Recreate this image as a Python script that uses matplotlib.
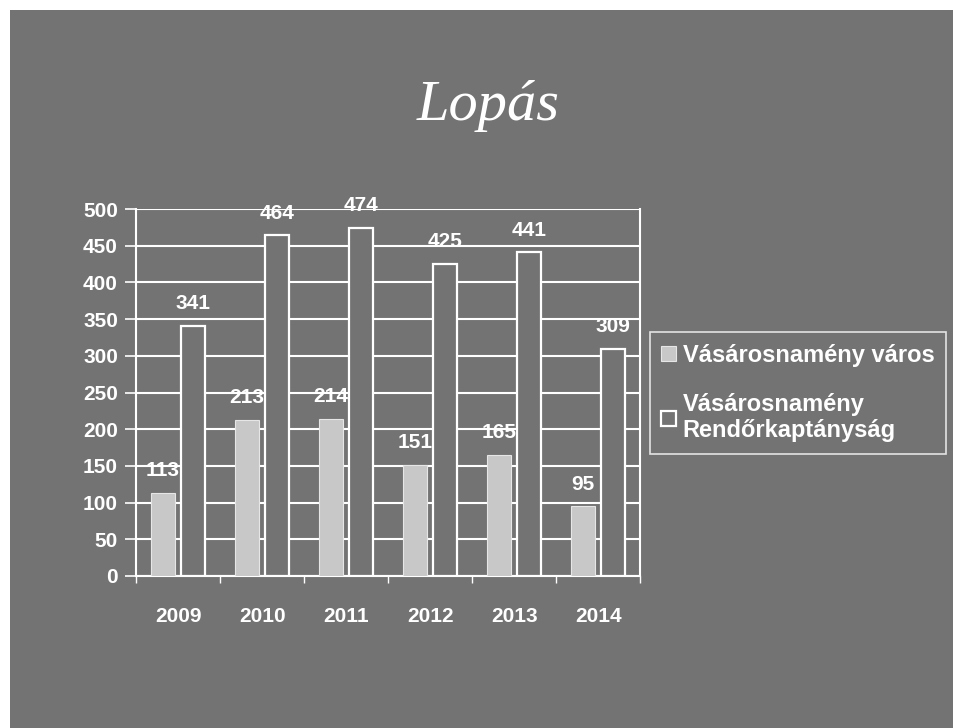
import numpy as np
import matplotlib.pyplot as plt
from matplotlib.patches import Rectangle

years = ['2009', '2010', '2011', '2012', '2013', '2014']
varos = [113, 213, 214, 151, 165, 95]
kapitanysag = [341, 464, 474, 425, 441, 309]
series_names = ['Vásárosnamény város', 'Vásárosnamény\nRendőrkaptányság']

bg = '#737373'
light = '#c8c8c8'

plt.rcParams['font.family'] = ['Liberation Sans', 'DejaVu Sans']

fig = plt.figure(figsize=(9.54, 7.28), dpi=100)
fig.patch.set_facecolor('white')
# scanned slide area (thin white margin at the top and left)
fig.patches.append(Rectangle((10 / 954, 0), 1, 1 - 10 / 728, transform=fig.transFigure,
                             facecolor=bg, edgecolor='none', zorder=-5))

ax = fig.add_axes([0.1426, 0.2088, 0.5284, 0.5041])
ax.set_facecolor(bg)

x = np.arange(len(years))
w = 0.28
b1 = ax.bar(x - 0.18, varos, w, color=light, edgecolor='#e6e6e6', linewidth=0.8,
            label=series_names[0], zorder=3)
b2 = ax.bar(x + 0.18, kapitanysag, w, color=bg, edgecolor='white', linewidth=1.6,
            label=series_names[1], zorder=3)

for bars, vals in ((b1, varos), (b2, kapitanysag)):
    for rect, v in zip(bars, vals):
        ax.annotate(str(v), (rect.get_x() + rect.get_width() / 2, v),
                    xytext=(0, 16), textcoords='offset points', ha='center', va='center',
                    color='white', fontsize=15, fontweight='bold', zorder=5)

ax.set_xlim(-0.5, 5.5)
ax.set_ylim(0, 500)
ax.set_yticks(np.arange(0, 501, 50))
ax.set_xticks(x)
ax.set_xticklabels(years)
ax.set_xticks(np.arange(-0.5, 6, 1), minor=True)
ax.yaxis.grid(True, color='white', linewidth=1.5, zorder=1)
ax.set_axisbelow(True)

for side in ('left', 'right', 'bottom'):
    ax.spines[side].set_color('white')
    ax.spines[side].set_linewidth(1.5)
ax.spines['top'].set_visible(False)

ax.tick_params(axis='y', colors='white', length=8, width=1.2, labelsize=15, pad=5)
ax.tick_params(axis='x', which='major', length=0, pad=22, colors='white', labelsize=15)
ax.tick_params(axis='x', which='minor', length=5, width=1, colors='white')
for lab in ax.get_xticklabels() + ax.get_yticklabels():
    lab.set_fontweight('bold')

fig.text(0.512, 0.855, 'Lopás', ha='center', va='center', color='white',
         fontsize=42, fontstyle='italic', family=['Liberation Serif', 'DejaVu Serif'])

leg = fig.legend(handles=[b1, b2], labels=series_names, loc='center left',
                 bbox_to_anchor=(0.681, 0.46), frameon=True, fancybox=False,
                 prop={'weight': 'bold', 'size': 17},
                 handlelength=0.6, handleheight=0.6, handletextpad=0.3,
                 labelspacing=1.1, borderpad=0.5, borderaxespad=0)
leg.get_frame().set_facecolor(bg)
leg.get_frame().set_edgecolor('white')
leg.get_frame().set_linewidth(1.2)
for t in leg.get_texts():
    t.set_color('white')

fig.savefig('out.png', dpi=100, facecolor=fig.get_facecolor())
